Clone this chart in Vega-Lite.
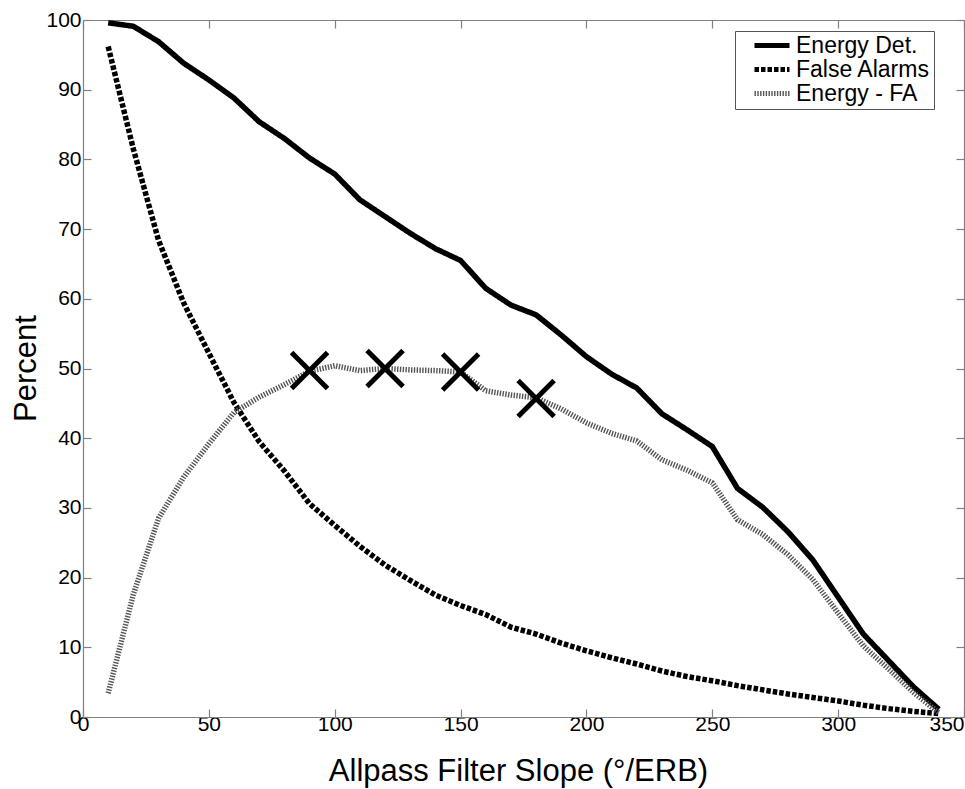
{
  "$schema": "https://vega.github.io/schema/vega-lite/v6.json",
  "width": 881,
  "height": 697,
  "autosize": {"type": "none"},
  "padding": {"left": 83, "top": 20, "right": 1, "bottom": 72},
  "background": "white",
  "config": {
    "view": {"stroke": null},
    "font": "Liberation Sans",
    "axis": {
      "grid": false,
      "domainColor": "#808080",
      "domainWidth": 1.2,
      "tickColor": "#808080",
      "tickWidth": 1.2,
      "tickSize": -8,
      "labelColor": "black",
      "labelFont": "Liberation Sans",
      "labelFontSize": 21,
      "titleFont": "Liberation Sans",
      "titleFontWeight": "normal",
      "titleColor": "black",
      "titleFontSize": 31
    }
  },
  "datasets": {
    "curves": [
      {"x": 10, "p": 99.6, "s": "Energy Det."}, {"x": 20, "p": 99.1, "s": "Energy Det."}, {"x": 30, "p": 96.9, "s": "Energy Det."}, {"x": 40, "p": 93.8, "s": "Energy Det."}, {"x": 50, "p": 91.4, "s": "Energy Det."}, {"x": 60, "p": 88.8, "s": "Energy Det."}, {"x": 70, "p": 85.4, "s": "Energy Det."}, {"x": 80, "p": 83.0, "s": "Energy Det."}, {"x": 90, "p": 80.2, "s": "Energy Det."}, {"x": 100, "p": 77.9, "s": "Energy Det."}, {"x": 110, "p": 74.2, "s": "Energy Det."}, {"x": 120, "p": 71.8, "s": "Energy Det."}, {"x": 130, "p": 69.4, "s": "Energy Det."}, {"x": 140, "p": 67.2, "s": "Energy Det."}, {"x": 150, "p": 65.5, "s": "Energy Det."}, {"x": 160, "p": 61.5, "s": "Energy Det."}, {"x": 170, "p": 59.1, "s": "Energy Det."}, {"x": 180, "p": 57.7, "s": "Energy Det."}, {"x": 190, "p": 54.8, "s": "Energy Det."}, {"x": 200, "p": 51.7, "s": "Energy Det."}, {"x": 210, "p": 49.2, "s": "Energy Det."}, {"x": 220, "p": 47.2, "s": "Energy Det."}, {"x": 230, "p": 43.5, "s": "Energy Det."}, {"x": 240, "p": 41.2, "s": "Energy Det."}, {"x": 250, "p": 38.8, "s": "Energy Det."}, {"x": 260, "p": 32.8, "s": "Energy Det."}, {"x": 270, "p": 30.1, "s": "Energy Det."}, {"x": 280, "p": 26.6, "s": "Energy Det."}, {"x": 290, "p": 22.5, "s": "Energy Det."}, {"x": 300, "p": 17.2, "s": "Energy Det."}, {"x": 310, "p": 11.9, "s": "Energy Det."}, {"x": 320, "p": 8.1, "s": "Energy Det."}, {"x": 330, "p": 4.3, "s": "Energy Det."}, {"x": 340, "p": 1.1, "s": "Energy Det."},
      {"x": 10, "p": 96.2, "s": "False Alarms"}, {"x": 20, "p": 81.5, "s": "False Alarms"}, {"x": 30, "p": 68.4, "s": "False Alarms"}, {"x": 40, "p": 59.4, "s": "False Alarms"}, {"x": 50, "p": 52.2, "s": "False Alarms"}, {"x": 60, "p": 45.1, "s": "False Alarms"}, {"x": 70, "p": 39.5, "s": "False Alarms"}, {"x": 80, "p": 35.3, "s": "False Alarms"}, {"x": 90, "p": 30.6, "s": "False Alarms"}, {"x": 100, "p": 27.5, "s": "False Alarms"}, {"x": 110, "p": 24.5, "s": "False Alarms"}, {"x": 120, "p": 21.8, "s": "False Alarms"}, {"x": 130, "p": 19.6, "s": "False Alarms"}, {"x": 140, "p": 17.5, "s": "False Alarms"}, {"x": 150, "p": 16.0, "s": "False Alarms"}, {"x": 160, "p": 14.7, "s": "False Alarms"}, {"x": 170, "p": 12.9, "s": "False Alarms"}, {"x": 180, "p": 11.9, "s": "False Alarms"}, {"x": 190, "p": 10.6, "s": "False Alarms"}, {"x": 200, "p": 9.5, "s": "False Alarms"}, {"x": 210, "p": 8.5, "s": "False Alarms"}, {"x": 220, "p": 7.6, "s": "False Alarms"}, {"x": 230, "p": 6.6, "s": "False Alarms"}, {"x": 240, "p": 5.8, "s": "False Alarms"}, {"x": 250, "p": 5.2, "s": "False Alarms"}, {"x": 260, "p": 4.5, "s": "False Alarms"}, {"x": 270, "p": 3.9, "s": "False Alarms"}, {"x": 280, "p": 3.3, "s": "False Alarms"}, {"x": 290, "p": 2.8, "s": "False Alarms"}, {"x": 300, "p": 2.3, "s": "False Alarms"}, {"x": 310, "p": 1.7, "s": "False Alarms"}, {"x": 320, "p": 1.2, "s": "False Alarms"}, {"x": 330, "p": 0.8, "s": "False Alarms"}, {"x": 340, "p": 0.5, "s": "False Alarms"},
      {"x": 10, "p": 3.4, "s": "Energy - FA"}, {"x": 20, "p": 17.6, "s": "Energy - FA"}, {"x": 30, "p": 28.5, "s": "Energy - FA"}, {"x": 40, "p": 34.4, "s": "Energy - FA"}, {"x": 50, "p": 39.2, "s": "Energy - FA"}, {"x": 60, "p": 43.7, "s": "Energy - FA"}, {"x": 70, "p": 45.9, "s": "Energy - FA"}, {"x": 80, "p": 47.7, "s": "Energy - FA"}, {"x": 90, "p": 49.6, "s": "Energy - FA"}, {"x": 100, "p": 50.4, "s": "Energy - FA"}, {"x": 110, "p": 49.7, "s": "Energy - FA"}, {"x": 120, "p": 50.0, "s": "Energy - FA"}, {"x": 130, "p": 49.8, "s": "Energy - FA"}, {"x": 140, "p": 49.7, "s": "Energy - FA"}, {"x": 150, "p": 49.5, "s": "Energy - FA"}, {"x": 160, "p": 46.8, "s": "Energy - FA"}, {"x": 170, "p": 46.2, "s": "Energy - FA"}, {"x": 180, "p": 45.8, "s": "Energy - FA"}, {"x": 190, "p": 44.2, "s": "Energy - FA"}, {"x": 200, "p": 42.2, "s": "Energy - FA"}, {"x": 210, "p": 40.7, "s": "Energy - FA"}, {"x": 220, "p": 39.6, "s": "Energy - FA"}, {"x": 230, "p": 36.9, "s": "Energy - FA"}, {"x": 240, "p": 35.4, "s": "Energy - FA"}, {"x": 250, "p": 33.6, "s": "Energy - FA"}, {"x": 260, "p": 28.3, "s": "Energy - FA"}, {"x": 270, "p": 26.2, "s": "Energy - FA"}, {"x": 280, "p": 23.3, "s": "Energy - FA"}, {"x": 290, "p": 19.7, "s": "Energy - FA"}, {"x": 300, "p": 14.9, "s": "Energy - FA"}, {"x": 310, "p": 10.2, "s": "Energy - FA"}, {"x": 320, "p": 6.9, "s": "Energy - FA"}, {"x": 330, "p": 3.5, "s": "Energy - FA"}, {"x": 340, "p": 0.6, "s": "Energy - FA"}
    ],
    "marks": [
      {"x": 90, "p": 49.7},
      {"x": 120, "p": 50.0},
      {"x": 150, "p": 49.5},
      {"x": 180, "p": 45.7}
    ]
  },
  "resolve": {"axis": {"x": "independent", "y": "independent"}},
  "layer": [
    {
      "data": {"name": "curves"},
      "mark": {"type": "line", "strokeWidth": 5.5, "strokeCap": "butt"},
      "encoding": {
        "x": {
          "field": "x", "type": "quantitative",
          "scale": {"domain": [0, 350], "nice": false, "zero": false},
          "axis": {
            "orient": "bottom",
            "values": [0, 50, 100, 150, 200, 250, 300, 350],
            "title": "Allpass Filter Slope (°/ERB)",
            "labelAlign": {"expr": "datum.value >= 350 ? 'right' : 'center'"},
            "labelPadding": 4,
            "titleX": 435,
            "titleY": 63,
            "titleBaseline": "alphabetic"
          }
        },
        "y": {
          "field": "p", "type": "quantitative",
          "scale": {"domain": [0, 100], "nice": false, "zero": false},
          "axis": {
            "orient": "left",
            "values": [0, 10, 20, 30, 40, 50, 60, 70, 80, 90, 100],
            "title": "Percent",
            "labelPadding": 10,
            "titleX": -48,
            "titleY": 348,
            "titleBaseline": "alphabetic",
            "titleAlign": "center"
          }
        },
        "color": {
          "field": "s", "type": "nominal",
          "scale": {"domain": ["Energy Det.", "False Alarms", "Energy - FA"], "range": ["#000000", "#000000", "#555555"]},
          "legend": {
            "title": null, "orient": "none", "legendX": 652, "legendY": 11,
            "padding": 3, "strokeColor": "#555555", "fillColor": "white",
            "labelFontSize": 23, "labelFont": "Liberation Sans", "labelColor": "black",
            "symbolType": "M2.5,0H20", "symbolSize": 16, "symbolStrokeWidth": 5,
            "rowPadding": 0, "labelOffset": 35
          }
        },
        "strokeDash": {
          "field": "s", "type": "nominal",
          "scale": {"domain": ["Energy Det.", "False Alarms", "Energy - FA"], "range": [[1, 0], [4.5, 2], [1.4, 1.4]]},
          "legend": {
            "title": null, "orient": "none", "legendX": 652, "legendY": 11,
            "padding": 3, "strokeColor": "#555555", "fillColor": "white",
            "labelFontSize": 23, "labelFont": "Liberation Sans", "labelColor": "black",
            "symbolType": "M2.5,0H20", "symbolSize": 16, "symbolStrokeWidth": 5,
            "rowPadding": 0, "labelOffset": 35
          }
        }
      }
    },
    {
      "data": {"name": "marks"},
      "mark": {"type": "point", "shape": "M-1,-1L1,1M-1,1L1,-1", "size": 1296, "filled": false, "stroke": "black", "strokeWidth": 5, "opacity": 1},
      "encoding": {
        "x": {
          "field": "x", "type": "quantitative",
          "scale": {"domain": [0, 350], "nice": false, "zero": false},
          "axis": {"orient": "top", "values": [0, 50, 100, 150, 200, 250, 300, 350], "labels": false, "title": null}
        },
        "y": {
          "field": "p", "type": "quantitative",
          "scale": {"domain": [0, 100], "nice": false, "zero": false},
          "axis": {"orient": "right", "values": [0, 10, 20, 30, 40, 50, 60, 70, 80, 90, 100], "labels": false, "title": null}
        }
      }
    }
  ]
}
